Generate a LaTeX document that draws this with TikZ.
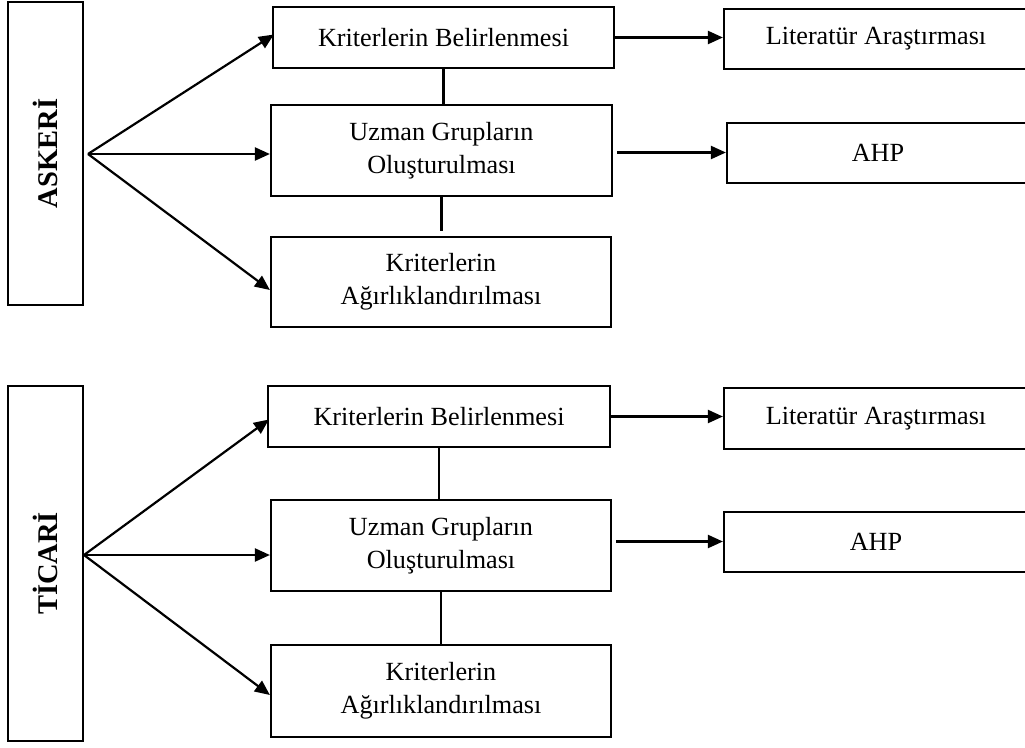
\documentclass[tikz,border=0pt]{standalone}
\usepackage{fontspec}
\setmainfont{Liberation Serif}
\usetikzlibrary{arrows.meta,calc}
\begin{document}
\begin{tikzpicture}[x=1pt,y=-1pt,
  box/.style={draw,line width=2.2pt,inner sep=0pt,align=center,
    font=\fontsize{26.2}{33}\selectfont},
  side/.style={draw,line width=2.2pt,inner sep=0pt},
  sidetext/.style={rotate=90,font=\fontsize{28.5}{30}\selectfont\bfseries},
  arr/.style={line width=2.2pt,-{Triangle[length=15pt,width=13pt]}},
  ln/.style={line width=2.2pt}]
\useasboundingbox (0,0) rectangle (1025,747);
\fill[white] (0,0) rectangle (1025,747);
% top
\node[side,minimum width=75pt,minimum height=303pt] (ask) at (45.5,153.5) {};
\node[sidetext] (askt) at (45.5,153.5) {ASKERİ};
\coordinate (o1) at (88,154);
\node[box,minimum width=341pt,minimum height=61pt] (kb1) at (443.5,37.5) {Kriterlerin Belirlenmesi};
\node[box,minimum width=341pt,minimum height=91pt] (ug1) at (441.5,150.5) {Uzman Grupların\\Oluşturulması};
\node[box,minimum width=340pt,minimum height=90pt] (ka1) at (441,282) {Kriterlerin\\Ağırlıklandırılması};
\node[box,minimum width=304pt,minimum height=60pt] (lit1) at (876,39) {Literatür Araştırması};
\node[box,minimum width=302pt,minimum height=60pt] (ahp1) at (878,153) {AHP};
\draw[arr] (o1) -- ($(kb1.west)+(2,-3)$);
\draw[arr] (o1) -- (o1 -| ug1.west);
\draw[arr] (o1) -- ($(ka1.west)+(0,8)$);
\draw[ln] (kb1.south) -- (kb1.south |- ug1.north);
\draw[ln] (ug1.south) -- ($(ug1.south |- ka1.north)+(0,-5)$);
\draw[arr] (kb1.east) -- (kb1.east -| lit1.west);
\draw[arr] ($(ug1.east)+(4,2)$) -- ($(ug1.east -| ahp1.west)+(0,2)$);
% bottom
\node[side,minimum width=75pt,minimum height=355pt] (tic) at (45.5,563.5) {};
\node[sidetext] (tict) at (45.5,563.5) {TİCARİ};
\coordinate (o2) at (84,555);
\node[box,minimum width=342pt,minimum height=61pt] (kb2) at (439,416.5) {Kriterlerin Belirlenmesi};
\node[box,minimum width=340pt,minimum height=91pt] (ug2) at (441,545.5) {Uzman Grupların\\Oluşturulması};
\node[box,minimum width=340pt,minimum height=92pt] (ka2) at (441,691) {Kriterlerin\\Ağırlıklandırılması};
\node[box,minimum width=304pt,minimum height=61pt] (lit2) at (876,418.5) {Literatür Araştırması};
\node[box,minimum width=304pt,minimum height=60pt] (ahp2) at (876,542) {AHP};
\draw[arr] (o2) -- ($(kb2.west)+(2,3)$);
\draw[arr] (o2) -- (o2 -| ug2.west);
\draw[arr] (o2) -- ($(ka2.west)+(0,4)$);
\draw[ln] (kb2.south) -- (kb2.south |- ug2.north);
\draw[ln] (ug2.south) -- (ug2.south |- ka2.north);
\draw[arr] (kb2.east) -- (kb2.east -| lit2.west);
\draw[arr] ($(ug2.east)+(4,-4)$) -- ($(ug2.east -| ahp2.west)+(0,-4)$);
\end{tikzpicture}
\end{document}
